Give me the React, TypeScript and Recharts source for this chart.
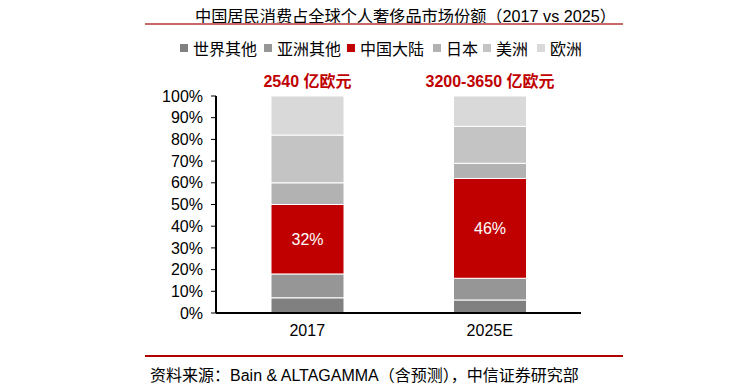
import React from "react";
import { Bar, BarChart, LabelList, XAxis, YAxis } from "recharts";

const FONT = "'Liberation Sans', 'Noto Sans CJK SC', sans-serif";
const RED = "#c00000";

const categories = ["2017", "2025E"];
const totals = ["2540 亿欧元", "3200-3650 亿欧元"];
const seriesNames = ["世界其他", "亚洲其他", "中国大陆", "日本", "美洲", "欧洲"];
const seriesColors = ["#808080", "#969696", RED, "#b2b2b2", "#c4c4c4", "#d9d9d9"];
const worldOther = [7, 6];
const asiaOther = [11, 10];
const chinaMainland = [32, 46];
const japan = [10, 7];
const americas = [22, 17];
const europe = [18, 14];
const yTicks = [0, 10, 20, 30, 40, 50, 60, 70, 80, 90, 100];

const seriesValues = [worldOther, asiaOther, chinaMainland, japan, americas, europe];
const data = categories.map((c, i) => {
  const row: any = { name: c, total: totals[i] };
  seriesNames.forEach((s, k) => (row[s] = seriesValues[k][i]));
  return row;
});

const TotalLabel = (props: any) => {
  const { x, y, width, index } = props;
  return (
    <text x={x + width / 2} y={y - 9} textAnchor="middle" fill={RED} fontSize={16} fontWeight="bold" fontFamily={FONT}>
      {totals[index]}
    </text>
  );
};

const ShareLabel = (props: any) => {
  const { x, y, width, height, value } = props;
  return (
    <text x={x + width / 2} y={y + height / 2} dy={6} textAnchor="middle" fill="#fff" fontSize={16} fontFamily={FONT}>
      {value}%
    </text>
  );
};

export default function App() {
  return (
    <div style={{ position: "absolute", left: 0, top: 0, width: 755, height: 386, background: "#fff", fontFamily: FONT }}>
      <div style={{ position: "absolute", left: 195, top: 3, fontSize: 16.2, color: "#000", whiteSpace: "nowrap" }}>
        中国居民消费占全球个人奢侈品市场份额（2017 vs 2025）
      </div>
      <div style={{ position: "absolute", left: 145, width: 478, top: 23, height: 2, background: "#c9686a" }} />
      <div style={{ position: "absolute", left: 180, top: 36, fontSize: 16, whiteSpace: "nowrap" }}>
        {seriesNames.map((s, i) => (
          <div key={s} style={{ position: "absolute", left: [0, 84, 167, 253, 303, 357][i], top: 0, display: "flex", alignItems: "center" }}>
            <span style={{ display: "inline-block", width: 8, height: 8, background: seriesColors[i], marginRight: 5 }} />
            <span>{s}</span>
          </div>
        ))}
      </div>
      <div style={{ position: "absolute", left: 0, top: 0 }}>
        <BarChart width={755} height={386} data={data} margin={{ top: 96, right: 174, left: 156, bottom: 43 }} barSize={73}>
          <XAxis
            dataKey="name"
            tickLine={false}
            axisLine={{ stroke: "#000", strokeWidth: 2 }}
            tick={{ fontSize: 16, fill: "#000", fontFamily: FONT }}
            tickMargin={6}
            height={30}
          />
          <YAxis
            width={60}
            domain={[0, 100]}
            ticks={yTicks}
            interval={0}
            tickFormatter={(v) => `${v}%`}
            axisLine={{ stroke: "#000", strokeWidth: 2 }}
            tickLine={{ stroke: "#000" }}
            tickSize={5}
            tickMargin={8}
            tick={{ fontSize: 16, fill: "#000", fontFamily: FONT }}
          />
          {seriesNames.map((s, i) => (
            <Bar key={s} dataKey={s} stackId="a" fill={seriesColors[i]} stroke="#fff" strokeWidth={1} isAnimationActive={false}>
              {s === "中国大陆" && <LabelList dataKey={s} content={ShareLabel} />}
              {i === seriesNames.length - 1 && <LabelList dataKey="total" content={TotalLabel} />}
            </Bar>
          ))}
        </BarChart>
      </div>
      <div style={{ position: "absolute", left: 145, width: 478, top: 355, height: 1.5, background: "#b00000" }} />
      <div style={{ position: "absolute", left: 150, top: 362, fontSize: 16, color: "#000", whiteSpace: "nowrap" }}>
        资料来源：Bain &amp; ALTAGAMMA（含预测），中信证券研究部
      </div>
    </div>
  );
}
